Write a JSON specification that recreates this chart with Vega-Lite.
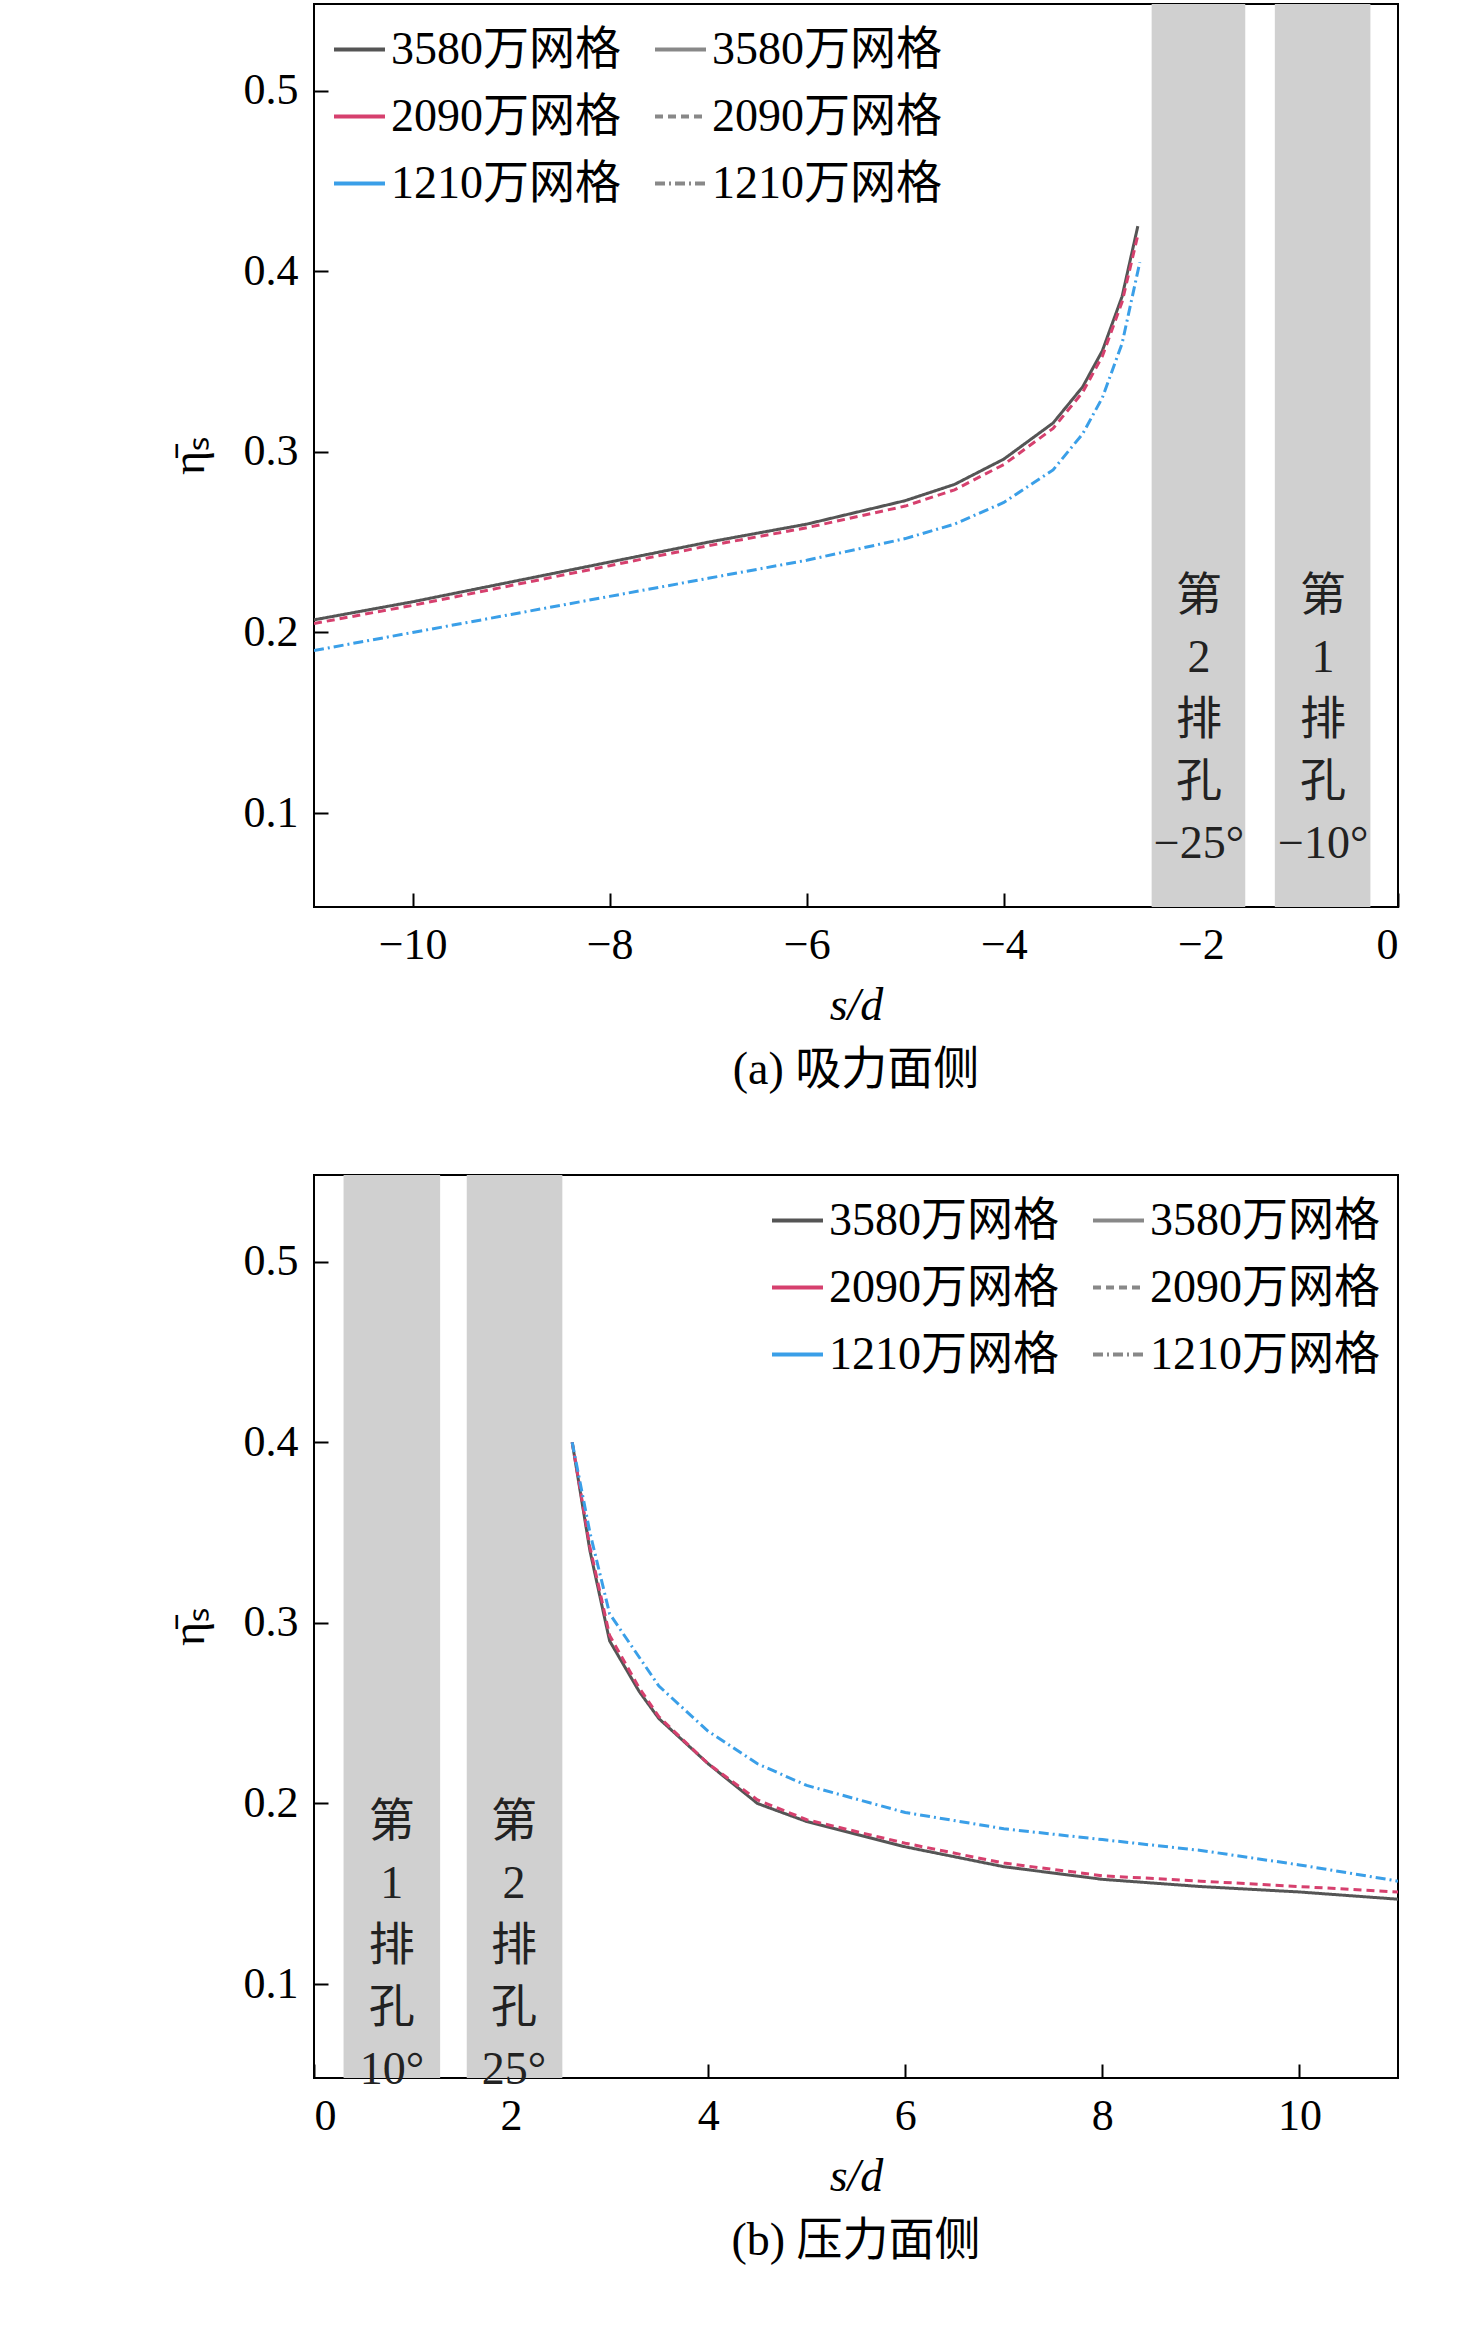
{
  "$schema": "https://vega.github.io/schema/vega-lite/v6.json",
  "background": "white",
  "padding": {"left": 165, "top": 3, "right": 60, "bottom": 5},
  "spacing": 80,
  "config": {
    "font": "Liberation Serif, Noto Sans CJK SC",
    "view": {"stroke": "black", "strokeWidth": 2},
    "axis": {"labelFontSize": 44, "titleFontSize": 46, "labelColor": "black", "titleColor": "black", "domain": false, "ticks": true, "tickSize": -14, "tickColor": "black", "tickWidth": 2, "grid": false, "labelPadding": 30, "labelFont": "Liberation Serif", "titleFont": "Liberation Serif", "titleFontWeight": "normal"},
    "legend": {"labelFontSize": 46, "labelFont": "Liberation Serif, Noto Sans CJK SC", "labelLimit": 0, "symbolType": "stroke", "symbolSize": 2600, "symbolStrokeWidth": 4, "rowPadding": 16, "title": null, "padding": 12},
    "title": {"fontSize": 46, "font": "Liberation Serif, Noto Sans CJK SC", "fontWeight": "normal", "orient": "bottom", "offset": 20}
  },
  "datasets": {
    "top": [
      {"s": -11, "eta": 0.207, "g": "3580万网格"}, {"s": -10, "eta": 0.217, "g": "3580万网格"}, {"s": -9, "eta": 0.228, "g": "3580万网格"}, {"s": -8, "eta": 0.239, "g": "3580万网格"}, {"s": -7, "eta": 0.25, "g": "3580万网格"}, {"s": -6, "eta": 0.26, "g": "3580万网格"}, {"s": -5, "eta": 0.273, "g": "3580万网格"}, {"s": -4.5, "eta": 0.282, "g": "3580万网格"}, {"s": -4, "eta": 0.296, "g": "3580万网格"}, {"s": -3.5, "eta": 0.316, "g": "3580万网格"}, {"s": -3.2, "eta": 0.336, "g": "3580万网格"}, {"s": -3, "eta": 0.356, "g": "3580万网格"}, {"s": -2.8, "eta": 0.386, "g": "3580万网格"}, {"s": -2.64, "eta": 0.425, "g": "3580万网格"},
      {"s": -11, "eta": 0.205, "g": "2090万网格"}, {"s": -10, "eta": 0.215, "g": "2090万网格"}, {"s": -9, "eta": 0.226, "g": "2090万网格"}, {"s": -8, "eta": 0.237, "g": "2090万网格"}, {"s": -7, "eta": 0.248, "g": "2090万网格"}, {"s": -6, "eta": 0.258, "g": "2090万网格"}, {"s": -5, "eta": 0.27, "g": "2090万网格"}, {"s": -4.5, "eta": 0.279, "g": "2090万网格"}, {"s": -4, "eta": 0.293, "g": "2090万网格"}, {"s": -3.5, "eta": 0.313, "g": "2090万网格"}, {"s": -3.2, "eta": 0.333, "g": "2090万网格"}, {"s": -3, "eta": 0.353, "g": "2090万网格"}, {"s": -2.8, "eta": 0.383, "g": "2090万网格"}, {"s": -2.64, "eta": 0.42, "g": "2090万网格"},
      {"s": -11, "eta": 0.19, "g": "1210万网格"}, {"s": -10, "eta": 0.2, "g": "1210万网格"}, {"s": -9, "eta": 0.21, "g": "1210万网格"}, {"s": -8, "eta": 0.22, "g": "1210万网格"}, {"s": -7, "eta": 0.23, "g": "1210万网格"}, {"s": -6, "eta": 0.24, "g": "1210万网格"}, {"s": -5, "eta": 0.252, "g": "1210万网格"}, {"s": -4.5, "eta": 0.26, "g": "1210万网格"}, {"s": -4, "eta": 0.272, "g": "1210万网格"}, {"s": -3.5, "eta": 0.29, "g": "1210万网格"}, {"s": -3.2, "eta": 0.31, "g": "1210万网格"}, {"s": -3, "eta": 0.33, "g": "1210万网格"}, {"s": -2.8, "eta": 0.36, "g": "1210万网格"}, {"s": -2.62, "eta": 0.405, "g": "1210万网格"}
    ],
    "bottom": [
      {"s": 2.62, "eta": 0.4, "g": "3580万网格"}, {"s": 2.8, "eta": 0.34, "g": "3580万网格"}, {"s": 3, "eta": 0.29, "g": "3580万网格"}, {"s": 3.3, "eta": 0.262, "g": "3580万网格"}, {"s": 3.5, "eta": 0.247, "g": "3580万网格"}, {"s": 4, "eta": 0.222, "g": "3580万网格"}, {"s": 4.5, "eta": 0.2, "g": "3580万网格"}, {"s": 5, "eta": 0.19, "g": "3580万网格"}, {"s": 6, "eta": 0.176, "g": "3580万网格"}, {"s": 7, "eta": 0.165, "g": "3580万网格"}, {"s": 8, "eta": 0.158, "g": "3580万网格"}, {"s": 9, "eta": 0.154, "g": "3580万网格"}, {"s": 10, "eta": 0.151, "g": "3580万网格"}, {"s": 11, "eta": 0.147, "g": "3580万网格"},
      {"s": 2.62, "eta": 0.4, "g": "2090万网格"}, {"s": 2.8, "eta": 0.342, "g": "2090万网格"}, {"s": 3, "eta": 0.293, "g": "2090万网格"}, {"s": 3.3, "eta": 0.264, "g": "2090万网格"}, {"s": 3.5, "eta": 0.248, "g": "2090万网格"}, {"s": 4, "eta": 0.222, "g": "2090万网格"}, {"s": 4.5, "eta": 0.202, "g": "2090万网格"}, {"s": 5, "eta": 0.191, "g": "2090万网格"}, {"s": 6, "eta": 0.178, "g": "2090万网格"}, {"s": 7, "eta": 0.167, "g": "2090万网格"}, {"s": 8, "eta": 0.16, "g": "2090万网格"}, {"s": 9, "eta": 0.157, "g": "2090万网格"}, {"s": 10, "eta": 0.154, "g": "2090万网格"}, {"s": 11, "eta": 0.151, "g": "2090万网格"},
      {"s": 2.62, "eta": 0.4, "g": "1210万网格"}, {"s": 2.8, "eta": 0.35, "g": "1210万网格"}, {"s": 3, "eta": 0.305, "g": "1210万网格"}, {"s": 3.5, "eta": 0.265, "g": "1210万网格"}, {"s": 4, "eta": 0.24, "g": "1210万网格"}, {"s": 4.5, "eta": 0.222, "g": "1210万网格"}, {"s": 5, "eta": 0.21, "g": "1210万网格"}, {"s": 6, "eta": 0.195, "g": "1210万网格"}, {"s": 7, "eta": 0.186, "g": "1210万网格"}, {"s": 8, "eta": 0.18, "g": "1210万网格"}, {"s": 9, "eta": 0.174, "g": "1210万网格"}, {"s": 10, "eta": 0.166, "g": "1210万网格"}, {"s": 11, "eta": 0.157, "g": "1210万网格"}
    ],
    "bandsTop": [
      {"x1": -2.5, "x2": -1.55, "mid": -2.02, "label": ["第", "2", "排", "孔", "−25°"]},
      {"x1": -1.25, "x2": -0.28, "mid": -0.76, "label": ["第", "1", "排", "孔", "−10°"]}
    ],
    "bandsBottom": [
      {"x1": 0.3, "x2": 1.28, "mid": 0.79, "label": ["第", "1", "排", "孔", "10°"]},
      {"x1": 1.55, "x2": 2.52, "mid": 2.03, "label": ["第", "2", "排", "孔", "25°"]}
    ]
  },
  "resolve": {"scale": {"color": "independent", "strokeDash": "independent"}, "legend": {"color": "independent", "strokeDash": "independent"}},
  "vconcat": [
    {
      "width": 1084, "height": 903,
      "title": "(a) 吸力面侧",
      "layer": [
        {"data": {"name": "bandsTop"}, "mark": {"type": "rect", "color": "#d0d0d0"},
         "encoding": {"x": {"field": "x1", "type": "quantitative"}, "x2": {"field": "x2"}, "y": {"datum": 0.048}, "y2": {"datum": 0.548}}},
        {"data": {"name": "bandsTop"}, "mark": {"type": "text", "fontSize": 46, "lineHeight": 62, "color": "#222", "baseline": "middle"},
         "encoding": {"x": {"field": "mid", "type": "quantitative"}, "y": {"datum": 0.22}, "text": {"field": "label"}}},
        {"data": {"name": "top"}, "mark": {"type": "line", "strokeWidth": 3, "clip": true},
         "encoding": {
           "x": {"field": "s", "type": "quantitative", "scale": {"domain": [-11, 0], "nice": false}, "axis": {"values": [-10, -8, -6, -4, -2, 0], "format": "d", "labelExpr": "replace(datum.label, '-', '−')", "title": "s/d", "titleFontStyle": "italic", "titlePadding": 16}},
           "y": {"field": "eta", "type": "quantitative", "scale": {"domain": [0.048, 0.548], "nice": false, "zero": false}, "axis": {"values": [0.1, 0.2, 0.3, 0.4, 0.5], "format": ".1f", "title": "η̄ₛ", "titlePadding": 30}},
           "color": {"field": "g", "type": "nominal", "sort": ["3580万网格", "2090万网格", "1210万网格"], "scale": {"range": ["#555555", "#d6406e", "#3a9fe8"]}, "legend": {"orient": "top-left", "offset": 6}},
           "strokeDash": {"field": "g", "type": "nominal", "sort": ["3580万网格", "2090万网格", "1210万网格"], "scale": {"range": [[1, 0], [8, 5], [10, 4, 2, 4]]}, "legend": {"orient": "top-left", "offset": 6}}
         }}
      ]
    },
    {
      "width": 1084, "height": 903,
      "title": "(b) 压力面侧",
      "layer": [
        {"data": {"name": "bandsBottom"}, "mark": {"type": "rect", "color": "#d0d0d0"},
         "encoding": {"x": {"field": "x1", "type": "quantitative"}, "x2": {"field": "x2"}, "y": {"datum": 0.048}, "y2": {"datum": 0.548}}},
        {"data": {"name": "bandsBottom"}, "mark": {"type": "text", "fontSize": 46, "lineHeight": 62, "color": "#222", "baseline": "middle"},
         "encoding": {"x": {"field": "mid", "type": "quantitative"}, "y": {"datum": 0.19}, "text": {"field": "label"}}},
        {"data": {"name": "bottom"}, "mark": {"type": "line", "strokeWidth": 3, "clip": true},
         "encoding": {
           "x": {"field": "s", "type": "quantitative", "scale": {"domain": [0, 11], "nice": false}, "axis": {"values": [0, 2, 4, 6, 8, 10], "format": "d", "title": "s/d", "titleFontStyle": "italic", "titlePadding": 16}},
           "y": {"field": "eta", "type": "quantitative", "scale": {"domain": [0.048, 0.548], "nice": false, "zero": false}, "axis": {"values": [0.1, 0.2, 0.3, 0.4, 0.5], "format": ".1f", "title": "η̄ₛ", "titlePadding": 30}},
           "color": {"field": "g", "type": "nominal", "sort": ["3580万网格", "2090万网格", "1210万网格"], "scale": {"range": ["#555555", "#d6406e", "#3a9fe8"]}, "legend": {"orient": "top-right", "offset": 6}},
           "strokeDash": {"field": "g", "type": "nominal", "sort": ["3580万网格", "2090万网格", "1210万网格"], "scale": {"range": [[1, 0], [8, 5], [10, 4, 2, 4]]}, "legend": {"orient": "top-right", "offset": 6}}
         }}
      ]
    }
  ]
}
